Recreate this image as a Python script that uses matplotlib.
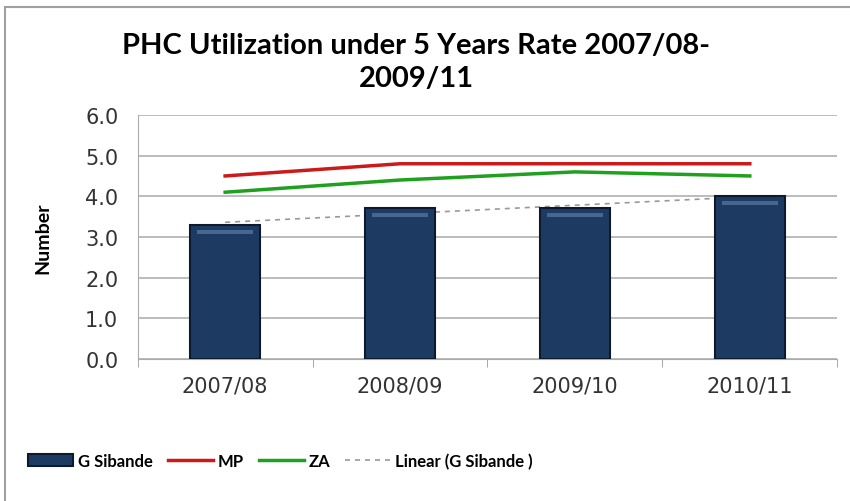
import numpy as np
import matplotlib
matplotlib.use("Agg")
import matplotlib.pyplot as plt
from matplotlib.patches import Rectangle

years = ["2007/08", "2008/09", "2009/10", "2010/11"]
sibande = [3.3, 3.7, 3.7, 4.0]
mp = [4.5, 4.8, 4.8, 4.8]
za = [4.1, 4.4, 4.6, 4.5]

x = np.arange(len(years))
slope, intercept = np.polyfit(x, sibande, 1)
trend = slope * x + intercept

fig = plt.figure(figsize=(8.5, 5.02), dpi=100)
ax = fig.add_axes([0.162, 0.283, 0.823, 0.486])

# frame of the original picture
fig.patches.append(Rectangle((0.006, -0.01), 1.0, 0.995, transform=fig.transFigure,
                             fill=False, edgecolor="#a0a0a0", linewidth=1.5))

ax.bar(x, sibande, width=0.4, color="#1d3b62", edgecolor="#0e1a2b", linewidth=1.5,
       zorder=3, label="G Sibande")
# glossy highlight near bar top
ax.bar(x, [0.1] * len(x), bottom=[v - 0.22 for v in sibande], width=0.32,
       color="#5a7ba3", alpha=0.7, zorder=4)
ax.plot(x, mp, color="#cc1a1a", linewidth=2.5, zorder=5, label="MP")
ax.plot(x, za, color="#1fa01f", linewidth=2.5, zorder=5, label="ZA")
ax.plot(x, trend, color="#999999", linewidth=1.2, linestyle=(0, (3, 3)), zorder=2,
        label="Linear (G Sibande )")

ax.set_xlim(-0.5, 3.5)
ax.set_ylim(0, 6)
ax.set_yticks(np.arange(0, 6.1, 1.0))
ax.set_yticklabels([f"{v:.1f}" for v in np.arange(0, 6.1, 1.0)], fontsize=15,
                   color="#333333")
ax.set_xticks(x)
ax.set_xticklabels(years, fontsize=15, color="#333333")
ax.set_xticks(np.arange(-0.5, 3.6, 1.0), minor=True)
ax.tick_params(axis="x", which="major", length=0, pad=12)
ax.tick_params(axis="x", which="minor", length=6, color="#999999")
ax.tick_params(axis="y", length=0, pad=14)
ax.grid(axis="y", color="#b0b0b0", linewidth=1.2, zorder=0)
for s in ["top", "right"]:
    ax.spines[s].set_visible(False)
ax.spines["left"].set_color("#aaaaaa")
ax.spines["bottom"].set_color("#aaaaaa")

ax.set_ylabel("Number", fontsize=14, fontweight="bold", family="Lato", labelpad=24)

fig.text(0.49, 0.875, "PHC Utilization under 5 Years Rate 2007/08-\n2009/11",
         ha="center", va="center", fontsize=21, fontweight="bold", family="Lato",
         linespacing=1.35)

handles, labels = ax.get_legend_handles_labels()
order = [3, 0, 1, 2]
fig.legend([handles[i] for i in order], [labels[i] for i in order],
           loc="center left", bbox_to_anchor=(0.015, 0.08), ncol=4, frameon=False,
           prop={"family": "Lato", "weight": "bold", "size": 12},
           handlelength=2.7, columnspacing=0.9, handletextpad=0.3)

fig.savefig("out.png", dpi=100)
